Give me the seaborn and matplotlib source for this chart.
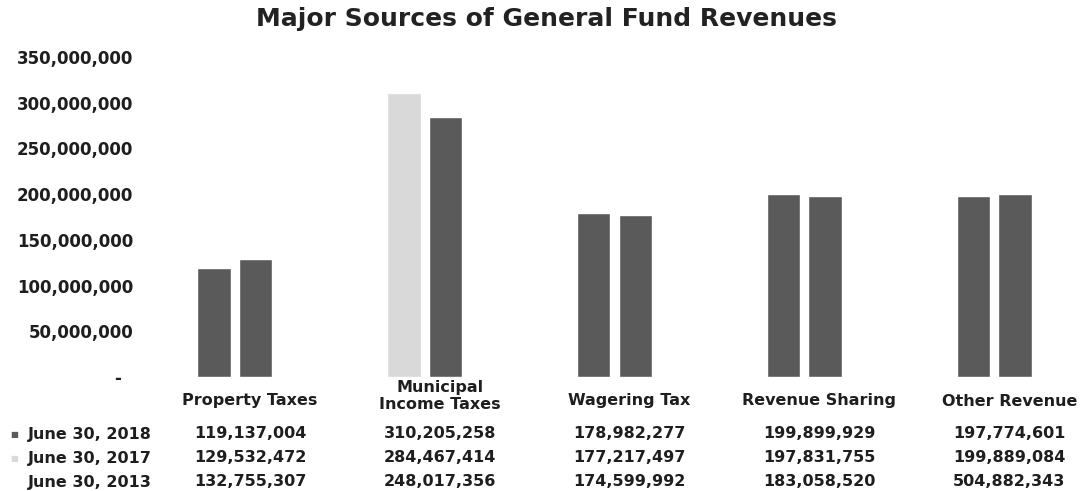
"""
Major Sources of General Fund Revenues - bar chart with data table
"""

import pandas as pd
import matplotlib.pyplot as plt
import matplotlib.transforms as mtransforms
import seaborn as sns


categories = ['Property Taxes', 'Municipal\nIncome Taxes', 'Wagering Tax',
              'Revenue Sharing', 'Other Revenue']
periods = ['June 30, 2018', 'June 30, 2017', 'June 30, 2013']
values_2018 = [119137004, 310205258, 178982277, 199899929, 197774601]
values_2017 = [129532472, 284467414, 177217497, 197831755, 199889084]
values_2013 = [132755307, 248017356, 174599992, 183058520, 504882343]
yticks = [0, 50000000, 100000000, 150000000, 200000000, 250000000,
          300000000, 350000000]

sns.set_style('white')
plt.rcParams['font.family'] = ['DejaVu Sans']
plt.rcParams['font.weight'] = 'bold'

DARK = '#5a5a5a'
LIGHT = '#d9d9d9'
TEXT = '#1e1e1e'
H = 491


def main():
    # only the two most recent years are drawn as bars in the original
    df = pd.DataFrame({
        'Category': categories * 2,
        'Period': [periods[0]] * 5 + [periods[1]] * 5,
        'Value': values_2018 + values_2017,
    })

    fig = plt.figure(figsize=(10.89, 4.91), dpi=100)
    ax = fig.add_axes([140 / 1089, 114 / H, 949 / 1089, 320 / H])

    sns.barplot(data=df, x='Category', y='Value', hue='Period',
                palette=[DARK, DARK], width=0.44, gap=0.2,
                saturation=1, legend=False, ax=ax)

    # the municipal income tax bar for 2018 is printed light grey
    ax.containers[0][1].set_facecolor(LIGHT)

    ax.set_ylim(0, 350000000)
    ax.set_xlim(-0.5, 4.5)
    ax.set_yticks(yticks)
    ax.set_yticklabels([f'{v:,}' if v else '-  ' for v in yticks],
                       fontsize=12, fontweight='bold', color=TEXT)
    ax.tick_params(axis='y', length=0, pad=5)
    ax.set_xticks([])
    ax.set_xlabel('')
    ax.set_ylabel('')
    sns.despine(ax=ax, left=True, bottom=True)

    fig.suptitle('Major Sources of General Fund Revenues', x=0.502,
                 y=1 - 19 / H, va='center', fontsize=18,
                 fontweight='bold', color='#222222')

    # data table under the plot
    trans = mtransforms.blended_transform_factory(ax.transData, fig.transFigure)
    for i, cat in enumerate(categories):
        yy = 396 if '\n' in cat else 401
        ax.text(i + 0.08, 1 - yy / H, cat, transform=trans, ha='center',
                va='center', fontsize=11.5, fontweight='bold', color=TEXT,
                clip_on=False, linespacing=1.15)

    rows = [values_2018, values_2017, values_2013]
    row_y = [434, 458, 482]
    for vals, period, yy in zip(rows, periods, row_y):
        fy = 1 - yy / H
        fig.text(28 / 1089, fy, period, ha='left', va='center', fontsize=11.5,
                 fontweight='bold', color=TEXT)
        for i, v in enumerate(vals):
            ax.text(i + 0.08, fy, f'{v:,}', transform=trans, ha='center',
                    va='center', fontsize=11.5, fontweight='bold', color=TEXT,
                    clip_on=False)

    # legend keys in front of the first two rows
    fig.text(10 / 1089, 1 - 434 / H, '■', ha='left', va='center',
             fontsize=6, color=DARK)
    fig.text(10 / 1089, 1 - 458 / H, '■', ha='left', va='center',
             fontsize=6, color=LIGHT)

    fig.savefig('out.png', dpi=100, facecolor='white')
    plt.close(fig)


if __name__ == '__main__':
    main()
